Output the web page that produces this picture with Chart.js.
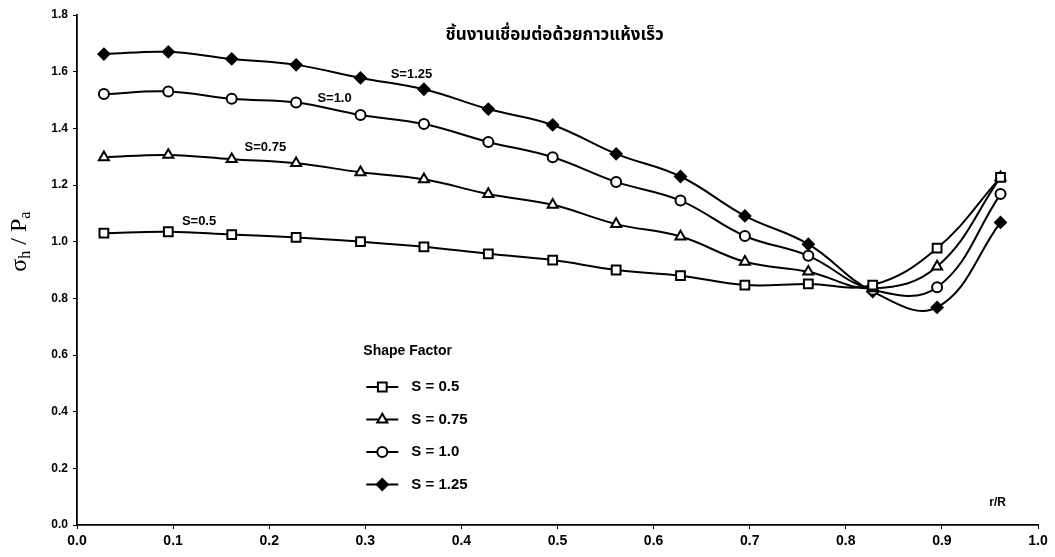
<!DOCTYPE html>
<html>
<head>
<meta charset="utf-8">
<script src="https://cdn.jsdelivr.net/npm/chart.js@4/dist/chart.umd.min.js"></script>
<style>
  html, body { margin: 0; padding: 0; background: #ffffff; }
  #wrap { width: 1055px; height: 557px; position: relative; }
</style>
</head>
<body>
<div id="wrap"><canvas id="c" width="1055" height="557"></canvas></div>
<script>
// ---- data ----
const rR = [0.028, 0.095, 0.161, 0.228, 0.295, 0.361, 0.428, 0.495, 0.561, 0.628, 0.695, 0.761, 0.828, 0.895, 0.961];
const s050 = [1.030, 1.035, 1.025, 1.015, 1.000, 0.982, 0.957, 0.935, 0.900, 0.880, 0.847, 0.851, 0.847, 0.977, 1.227];
const s075 = [1.298, 1.306, 1.291, 1.277, 1.245, 1.220, 1.168, 1.130, 1.062, 1.018, 0.929, 0.894, 0.835, 0.912, 1.227];
const s100 = [1.521, 1.530, 1.504, 1.491, 1.447, 1.415, 1.352, 1.298, 1.211, 1.145, 1.020, 0.950, 0.830, 0.839, 1.168];
const s125 = [1.662, 1.670, 1.645, 1.624, 1.578, 1.538, 1.468, 1.412, 1.310, 1.230, 1.091, 0.991, 0.824, 0.768, 1.068];
const seriesLabels = ["S = 0.5", "S = 0.75", "S = 1.0", "S = 1.25"];
const inlineLabels = ["S=0.5", "S=0.75", "S=1.0", "S=1.25"];
const xTicks = [0.0, 0.1, 0.2, 0.3, 0.4, 0.5, 0.6, 0.7, 0.8, 0.9, 1.0];
const yTicks = [0.0, 0.2, 0.4, 0.6, 0.8, 1.0, 1.2, 1.4, 1.6, 1.8];
const chartTitle = "ชิ้นงานเชื่อมต่อด้วยกาวแห้งเร็ว";
const legendTitle = "Shape Factor";
const xAxisLabel = "r/R";

// ---- styling (kept apart from data) ----
const styles = [
  { pointStyle: 'rect', radius: 6.2, fill: '#ffffff' },
  { pointStyle: 'triangle', radius: 5.8, fill: '#ffffff' },
  { pointStyle: 'circle', radius: 5, fill: '#ffffff' },
  { pointStyle: 'rectRot', radius: 5.5, fill: '#000000' }
];
// label anchor positions in data units
const inlineAnchor = [[0.127, 1.073], [0.196, 1.334], [0.268, 1.507], [0.348, 1.592]];

const allSeries = [s050, s075, s100, s125];
const datasets = allSeries.map((vals, i) => ({
  label: seriesLabels[i],
  data: rR.map((x, j) => ({ x: x, y: vals[j] })),
  borderColor: '#000000',
  borderWidth: 2,
  backgroundColor: styles[i].fill,
  pointStyle: styles[i].pointStyle,
  pointRadius: styles[i].radius,
  pointBorderWidth: 2,
  pointBorderColor: '#000000',
  pointBackgroundColor: styles[i].fill,
  tension: 0.4,
  fill: false
}));

const overlay = {
  id: 'overlay',
  afterDraw(chart) {
    const ctx = chart.ctx;
    const xs = chart.scales.x, ys = chart.scales.y;
    const ca = chart.chartArea;
    ctx.save();
    ctx.fillStyle = '#000';
    // title
    ctx.font = 'bold 17px "Noto Sans Thai", "Noto Sans Thai Looped", "Loma", "Garuda", "Noto Sans", "DejaVu Sans", sans-serif';
    ctx.textAlign = 'center';
    ctx.textBaseline = 'middle';
    ctx.fillText(chartTitle, xs.getPixelForValue(0.497), ca.top + 22);

    // inline series labels
    ctx.font = 'bold 13px "Liberation Sans", Arial, sans-serif';
    inlineLabels.forEach((t, i) => {
      ctx.fillText(t, xs.getPixelForValue(inlineAnchor[i][0]), ys.getPixelForValue(inlineAnchor[i][1]));
    });

    // x axis label
    ctx.font = 'bold 12px "Liberation Sans", Arial, sans-serif';
    ctx.fillText(xAxisLabel, xs.getPixelForValue(0.958), ca.bottom - 22);

    // y axis title with subscripts
    ctx.save();
    ctx.translate(18, ys.getPixelForValue(1.0));
    ctx.rotate(-Math.PI / 2);
    ctx.textAlign = 'left';
    ctx.textBaseline = 'alphabetic';
    const big = '24px "Liberation Serif", "DejaVu Serif", serif';
    const small = '16px "Liberation Serif", "DejaVu Serif", serif';
    const parts = [['σ', big, 0], ['h', small, 4], [' / ', big, 0], ['P', big, 0], ['a', small, 4]];
    let w = 0;
    parts.forEach(p => { ctx.font = p[1]; w += ctx.measureText(p[0]).width; });
    let cx = -w / 2;
    parts.forEach(p => {
      ctx.font = p[1];
      ctx.fillText(p[0], cx, 8 + p[2]);
      cx += ctx.measureText(p[0]).width;
    });
    ctx.restore();

    // legend
    const lx = xs.getPixelForValue(0.3), ly = ys.getPixelForValue(0.6);
    ctx.textAlign = 'left';
    ctx.textBaseline = 'middle';
    ctx.font = 'bold 14px "Liberation Sans", Arial, sans-serif';
    ctx.fillText(legendTitle, lx - 2, ly - 4);
    ctx.font = 'bold 15px "Liberation Sans", Arial, sans-serif';
    datasets.forEach((ds, i) => {
      const yy = ly + 32 + i * 32.5;
      ctx.strokeStyle = '#000';
      ctx.lineWidth = 2;
      ctx.beginPath();
      ctx.moveTo(lx + 1, yy);
      ctx.lineTo(lx + 33, yy);
      ctx.stroke();
      ctx.fillStyle = styles[i].fill;
      Chart.helpers.drawPoint(ctx, { pointStyle: styles[i].pointStyle, radius: styles[i].radius, rotation: 0, borderWidth: 2 }, lx + 17, yy);
      ctx.fillStyle = '#000';
      ctx.fillText(ds.label, lx + 46, yy);
    });
    ctx.restore();
  }
};

new Chart(document.getElementById('c'), {
  type: 'line',
  data: { datasets: datasets },
  plugins: [overlay],
  options: {
    responsive: false,
    animation: false,
    layout: { padding: { left: 0, right: 17, top: 15, bottom: 0 } },
    plugins: { legend: { display: false }, tooltip: { enabled: false }, title: { display: false } },
    scales: {
      x: {
        type: 'linear', min: 0, max: 1,
        afterFit(s) { s.height = 32; },
        afterBuildTicks(s) { s.ticks = xTicks.map(v => ({ value: v })); },
        ticks: { color: '#000', font: { family: '"Liberation Sans Narrow", "Liberation Sans", Arial', size: 14, weight: 'bold' }, padding: 4, maxRotation: 0, callback: v => Number(v).toFixed(1) },
        grid: { display: true, drawOnChartArea: false, drawTicks: true, tickLength: 4, color: '#000', lineWidth: 1 },
        border: { display: true, color: '#000', width: 1.8 }
      },
      y: {
        type: 'linear', min: 0, max: 1.8,
        afterFit(s) { s.width = 77; },
        afterBuildTicks(s) { s.ticks = yTicks.map(v => ({ value: v })); },
        ticks: { color: '#000', font: { family: '"Liberation Sans", Arial', size: 12, weight: 'bold' }, padding: 5, callback: v => Number(v).toFixed(1) },
        grid: { display: true, drawOnChartArea: false, drawTicks: true, tickLength: 4, color: '#000', lineWidth: 1 },
        border: { display: true, color: '#000', width: 1.8 }
      }
    }
  }
});
</script>
</body>
</html>
